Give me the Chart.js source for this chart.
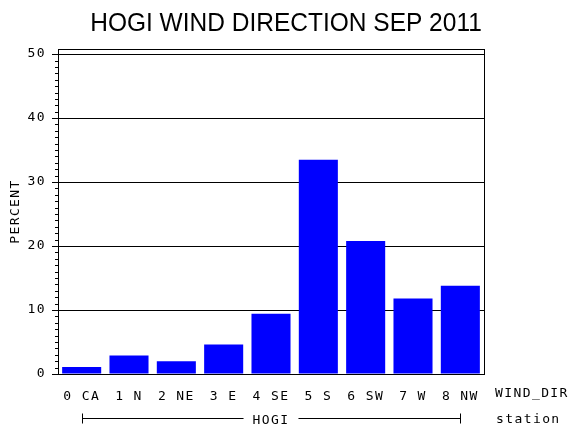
<!DOCTYPE html>
<html><head><meta charset="utf-8">
<script src="https://cdn.jsdelivr.net/npm/chart.js@4/dist/chart.umd.min.js"></script>
<style>html,body{margin:0;padding:0;background:#fff;overflow:hidden}</style>
</head><body>
<canvas id="c" width="570" height="430"></canvas>
<script>
const titleText = 'HOGI WIND DIRECTION SEP 2011';
const categories = ['0 CA', '1 N', '2 NE', '3 E', '4 SE', '5 S', '6 SW', '7 W', '8 NW'];
const percent = [1.1, 2.9, 2.0, 4.6, 9.4, 33.5, 20.8, 11.8, 13.8];
const stationLabels = ['HOGI'];
const yTicks = [0, 10, 20, 30, 40, 50];
const yMinorStep = 1;
const yMax = 50.8;
const xAxisName = 'WIND_DIR';
const groupAxisName = 'station';
const yAxisName = 'PERCENT';

const MONO = '"DejaVu Sans Mono", monospace';
const SPACING = '1.4px';

const decor = {
  id: 'decor',
  beforeDraw(chart) { chart.ctx.letterSpacing = SPACING; },
  afterDraw(chart) {
    const ctx = chart.ctx, a = chart.chartArea;
    const y = chart.scales.y, x = chart.scales.x, x2 = chart.scales.x2;
    ctx.save();
    ctx.strokeStyle = '#000'; ctx.lineWidth = 1;
    // frame
    ctx.strokeRect(Math.round(a.left) + 0.5, Math.round(a.top) + 0.5,
                   Math.round(a.right - a.left), Math.round(a.bottom - a.top));
    // minor ticks
    ctx.beginPath();
    for (let v = yMinorStep; v < yMax; v += yMinorStep) {
      if (yTicks.includes(v)) continue;
      const py = Math.round(y.getPixelForValue(v)) + 0.5;
      ctx.moveTo(a.left - 3, py); ctx.lineTo(a.left, py);
    }
    ctx.stroke();
    // group bracket
    const gx0 = Math.round(x.getPixelForValue(0)) + 0.5;
    const gx1 = Math.round(x.getPixelForValue(categories.length - 1)) + 0.5;
    const gy = Math.round(x2.top + 14) + 0.5;
    const cx = x2.getPixelForValue(0);
    ctx.font = '13px ' + MONO;
    ctx.letterSpacing = SPACING;
    const tw = ctx.measureText(stationLabels[0]).width;
    ctx.beginPath();
    ctx.moveTo(gx0, gy - 5); ctx.lineTo(gx0, gy + 5);
    ctx.moveTo(gx0, gy); ctx.lineTo(cx - tw / 2 - 9, gy);
    ctx.moveTo(cx + tw / 2 + 9, gy); ctx.lineTo(gx1, gy);
    ctx.moveTo(gx1, gy - 5); ctx.lineTo(gx1, gy + 5);
    ctx.stroke();
    // axis names at right
    ctx.fillStyle = '#000';
    ctx.textAlign = 'left'; ctx.textBaseline = 'middle';
    ctx.fillText(xAxisName, a.right + 11, x.top + 20);
    ctx.fillText(groupAxisName, a.right + 12, gy + 1);
    // title
    ctx.letterSpacing = '0px';
    ctx.font = '24.5px "Liberation Sans", Arial, sans-serif';
    ctx.textAlign = 'center'; ctx.textBaseline = 'alphabetic';
    ctx.translate(286, 31);
    ctx.scale(1, 1.07);
    ctx.fillText(titleText, 0, 0);
    ctx.restore();
  }
};

new Chart(document.getElementById('c'), {
  type: 'bar',
  data: {
    labels: categories,
    datasets: [{
      data: percent,
      backgroundColor: '#0000ff',
      borderWidth: 0,
      categoryPercentage: 1,
      barPercentage: 0.825,
      xAxisID: 'x', yAxisID: 'y'
    }]
  },
  options: {
    responsive: false,
    animation: false,
    devicePixelRatio: 1,
    layout: { padding: { top: 49, right: 86, left: 0, bottom: 0 } },
    plugins: { legend: { display: false }, title: { display: false }, tooltip: { enabled: false } },
    scales: {
      y: {
        min: 0, max: yMax,
        afterBuildTicks: s => { s.ticks = yTicks.map(v => ({ value: v })); },
        afterFit: s => { s.width = 58; },
        border: { display: false },
        grid: { color: '#000', lineWidth: 1, tickLength: 6, drawTicks: true },
        ticks: { color: '#000', font: { family: MONO, size: 13 }, padding: 6 },
        title: { display: true, text: yAxisName, color: '#000', font: { family: MONO, size: 13 }, padding: { top: 8, bottom: 0 } }
      },
      x: {
        type: 'category',
        offset: true,
        afterFit: s => { s.height = 30; },
        border: { display: false },
        grid: { display: false },
        ticks: { color: '#000', font: { family: MONO, size: 13 }, padding: 7, maxRotation: 0, autoSkip: false }
      },
      x2: {
        type: 'category',
        position: 'bottom',
        labels: stationLabels,
        offset: true,
        afterFit: s => { s.height = 26; },
        border: { display: false },
        grid: { display: false },
        ticks: { color: '#000', font: { family: MONO, size: 13 }, padding: 1, maxRotation: 0 }
      }
    }
  },
  plugins: [decor]
});
</script>
</body></html>
